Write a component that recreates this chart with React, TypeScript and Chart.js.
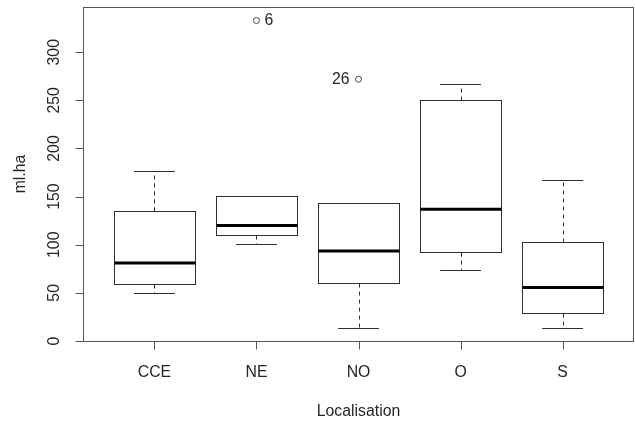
import React, { useEffect, useRef } from 'react';
import { Chart, registerables } from 'chart.js';

Chart.register(...registerables);

const categories = ['CCE', 'NE', 'NO', 'O', 'S'];
const whiskerLow = [50, 101, 13, 74, 14];
const q1 = [59, 110, 60, 92, 29.5];
const medians = [81, 120, 93.5, 137, 55.5];
const q3 = [135, 150.5, 143, 250.5, 103];
const whiskerHigh = [176.5, 150.5, 143, 267, 167];
const outlierCats = ['NE', 'NO'];
const outlierValues = [333, 272];
const outlierLabels = ['6', '26'];
const outlierLabelSide = ['right', 'left'];
const yTicks = [0, 50, 100, 150, 200, 250, 300];
const xTitle = 'Localisation';
const yTitle = 'ml.ha';

const FONT = '15.8px "Liberation Sans", Arial, sans-serif';
const TEXT = '#262626';

export default function App() {
  const ref = useRef<HTMLCanvasElement>(null);

  useEffect(() => {
    document.body.style.margin = '0';
    const boxPlugin = {
      id: 'rBoxplot',
      beforeDatasetsDraw(chart: any) {
        const ctx = chart.ctx as CanvasRenderingContext2D;
        const xs = chart.scales.x;
        const ys = chart.scales.y;
        ctx.save();
        categories.forEach((_, i) => {
          const c = i + 1;
          const xl = xs.getPixelForValue(c - 0.4);
          const xr = xs.getPixelForValue(c + 0.4);
          const xc = Math.round(xs.getPixelForValue(c)) + 0.5;
          const capL = xs.getPixelForValue(c - 0.2);
          const capR = xs.getPixelForValue(c + 0.2);
          const yq1 = Math.round(ys.getPixelForValue(q1[i])) + 0.5;
          const yq3 = Math.round(ys.getPixelForValue(q3[i])) + 0.5;
          const ymed = ys.getPixelForValue(medians[i]);
          const ylo = Math.round(ys.getPixelForValue(whiskerLow[i])) + 0.5;
          const yhi = Math.round(ys.getPixelForValue(whiskerHigh[i])) + 0.5;
          ctx.strokeStyle = '#2e2e2e';
          ctx.lineWidth = 1;
          ctx.setLineDash([4, 4]);
          ctx.beginPath();
          if (yhi < yq3) {
            ctx.moveTo(xc, yq3);
            ctx.lineTo(xc, yhi);
          }
          if (ylo > yq1) {
            ctx.moveTo(xc, yq1);
            ctx.lineTo(xc, ylo);
          }
          ctx.stroke();
          ctx.setLineDash([]);
          ctx.beginPath();
          ctx.moveTo(capL, yhi);
          ctx.lineTo(capR, yhi);
          ctx.moveTo(capL, ylo);
          ctx.lineTo(capR, ylo);
          ctx.stroke();
          ctx.fillStyle = '#ffffff';
          ctx.fillRect(xl, yq3, xr - xl, yq1 - yq3);
          ctx.strokeRect(Math.round(xl) + 0.5, yq3, Math.round(xr) - Math.round(xl), yq1 - yq3);
          ctx.strokeStyle = '#000000';
          ctx.lineWidth = 3;
          ctx.beginPath();
          ctx.moveTo(Math.round(xl) + 0.5, ymed);
          ctx.lineTo(Math.round(xr) + 0.5, ymed);
          ctx.stroke();
        });
        ctx.restore();
      },
      afterDraw(chart: any) {
        const ctx = chart.ctx as CanvasRenderingContext2D;
        const xs = chart.scales.x;
        const ys = chart.scales.y;
        const a = chart.chartArea;
        ctx.save();
        ctx.strokeStyle = '#555555';
        ctx.lineWidth = 1;
        const L = Math.round(a.left) + 0.5;
        const R = Math.round(a.right) - 0.5;
        const T = Math.round(a.top) + 0.5;
        const B = Math.round(a.bottom) + 0.5;
        ctx.strokeRect(L, T, R - L, B - T);
        ctx.beginPath();
        yTicks.forEach((v) => {
          const y = Math.round(ys.getPixelForValue(v)) + 0.5;
          ctx.moveTo(L, y);
          ctx.lineTo(L - 8, y);
        });
        categories.forEach((_, i) => {
          const x = Math.round(xs.getPixelForValue(i + 1)) + 0.5;
          ctx.moveTo(x, B);
          ctx.lineTo(x, B + 8);
        });
        ctx.stroke();
        ctx.fillStyle = TEXT;
        ctx.font = FONT;
        ctx.textAlign = 'center';
        ctx.textBaseline = 'middle';
        yTicks.forEach((v) => {
          const y = ys.getPixelForValue(v);
          ctx.save();
          ctx.translate(L - 29, y);
          ctx.rotate(-Math.PI / 2);
          ctx.fillText(String(v), 0, 0);
          ctx.restore();
        });
        categories.forEach((c, i) => {
          ctx.fillText(c, xs.getPixelForValue(i + 1), B + 31);
        });
        ctx.fillText(xTitle, xs.getPixelForValue(3), B + 70);
        ctx.save();
        ctx.translate(21, (a.top + a.bottom) / 2);
        ctx.rotate(-Math.PI / 2);
        ctx.fillText(yTitle, 0, 0);
        ctx.restore();
        outlierCats.forEach((c, i) => {
          const x = xs.getPixelForValue(categories.indexOf(c) + 1);
          const y = ys.getPixelForValue(outlierValues[i]);
          if (outlierLabelSide[i] === 'right') {
            ctx.textAlign = 'left';
            ctx.fillText(outlierLabels[i], x + 8, y);
          } else {
            ctx.textAlign = 'right';
            ctx.fillText(outlierLabels[i], x - 9, y);
          }
        });
        ctx.restore();
      },
    };

    const chart = new Chart(ref.current as HTMLCanvasElement, {
      type: 'scatter',
      data: {
        datasets: [
          {
            data: outlierCats.map((c, i) => ({ x: categories.indexOf(c) + 1, y: outlierValues[i] })),
            pointStyle: 'circle',
            radius: 3,
            borderColor: '#444444',
            backgroundColor: 'rgba(0,0,0,0)',
            borderWidth: 1,
          },
        ],
      },
      options: {
        responsive: false,
        animation: false,
        layout: { autoPadding: false, padding: { left: 83, top: 7, right: 1, bottom: 80 } },
        plugins: { legend: { display: false }, tooltip: { enabled: false } },
        scales: {
          x: { type: 'linear', min: 0.3, max: 5.7, display: false },
          y: { type: 'linear', min: 0, max: 347, display: false },
        },
      },
      plugins: [boxPlugin],
    });
    return () => chart.destroy();
  }, []);

  return (
    <div style={{ position: 'absolute', left: 0, top: 0 }}>
      <canvas ref={ref} width={635} height={421} style={{ width: 635, height: 421 }} />
    </div>
  );
}
